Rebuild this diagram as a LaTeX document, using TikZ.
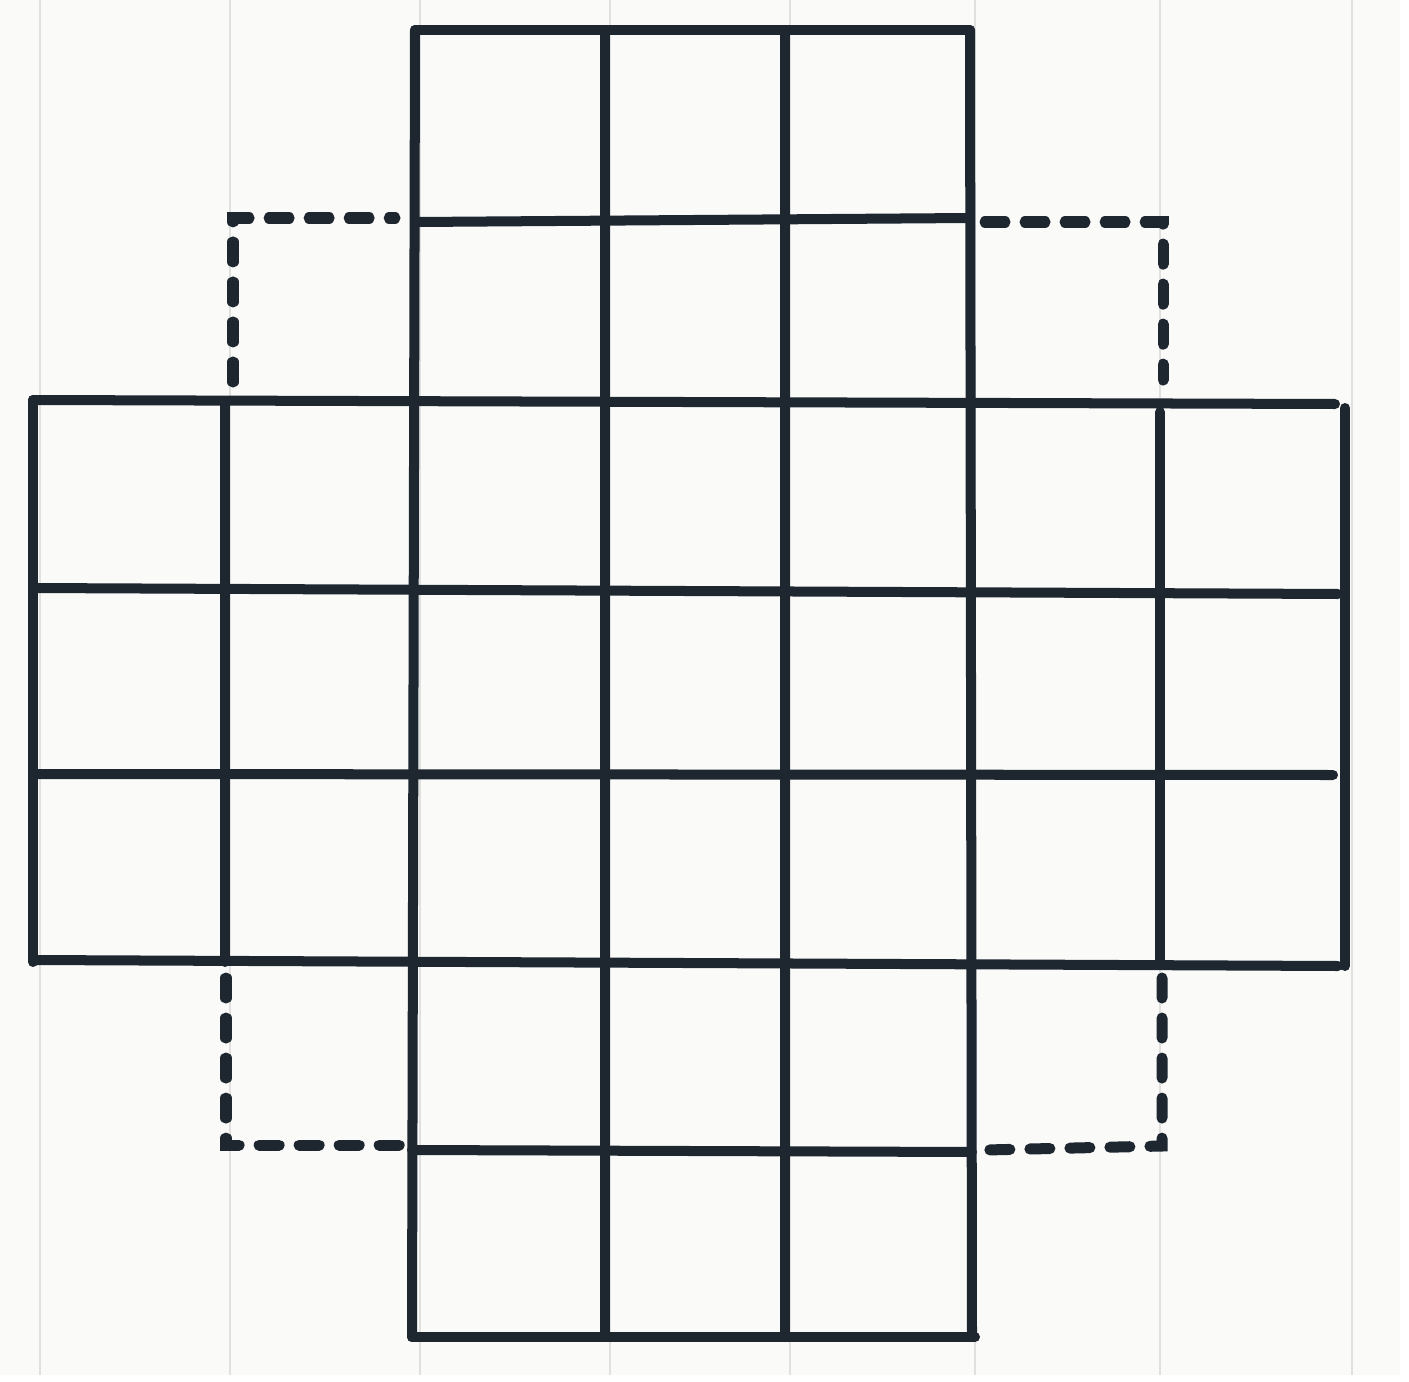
\documentclass[tikz,border=0pt]{standalone}
\usetikzlibrary{calc}
\definecolor{ink}{HTML}{1E2630}
\definecolor{paper}{HTML}{FAFAF9}
\definecolor{rule}{HTML}{E0E0E0}
\begin{document}
\begin{tikzpicture}[x=0.01cm,y=-0.01cm,
  pen/.style={draw=ink,line width=0.1cm,line cap=round},
  dashpen/.style={draw=ink,line width=0.11cm,line cap=round,dash pattern=on 0.2cm off 0.2cm},
  ruled/.style={draw=rule,line width=0.02cm}]
\useasboundingbox (0,0) rectangle (1409,1382);
\fill[white] (0,0) rectangle (1409,1382);
\fill[paper] (0,0) rectangle (1400,1375);
% notebook rules
\foreach \x in {40,230,420,610,790,975,1160,1352}
  \draw[ruled] (\x,0) -- (\x,1375);
% top and bottom column block
\foreach \x/\xb in {415/412,605/605,785/785,970/972}
  \draw[pen] (\x,30) -- (\xb,1337);
\draw[pen] (415,30) -- (970,30);
\draw[pen] (418,222) -- (970,218);
\draw[pen] (412,1150) -- (972,1152);
\draw[pen] (412,1337) -- (975,1337);
% middle band
\draw[pen] (33,400) -- (1335,404);
\draw[pen] (33,588) -- (1338,594);
\draw[pen] (33,774) -- (1333,775);
\draw[pen] (33,960) -- (1338,966);
\draw[pen] (33,400) -- (33,962);
\draw[pen] (225,402) -- (225,962);
\draw[pen] (1160,412) -- (1160,964);
\draw[pen] (1345,408) -- (1345,966);
% dashed flaps
\draw[dashpen] (233,382) -- (233,218) -- (395,218);
\draw[dashpen] (985,222) -- (1163,222) -- (1163,380);
\draw[dashpen] (226,978) -- (226,1145) -- (405,1145);
\draw[dashpen] (1162,978) -- (1162,1146) -- (985,1150);
\end{tikzpicture}
\end{document}
